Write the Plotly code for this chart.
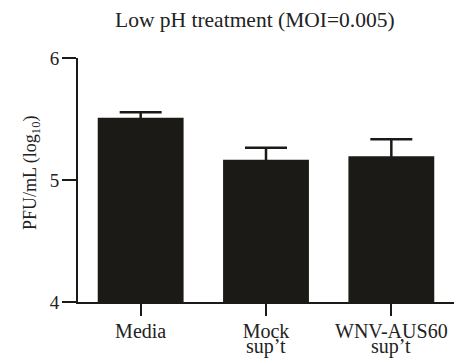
import plotly.graph_objects as go

# Data
categories = ["Media", "Mock", "WNV-AUS60"]
label_line2 = ["", "sup\u2019t", "sup\u2019t"]
means = [5.51, 5.165, 5.195]
errors = [0.045, 0.10, 0.14]
y_ticks = [4, 5, 6]
title_text = "Low pH treatment (MOI=0.005)"
y_title = "PFU/mL (log<sub>10</sub>)"

W, H = 454, 362
ml, mr, mt, mb = 78, 0, 58, 60
pw, ph = W - ml - mr, H - mt - mb

def px_to_paper_x(px):
    return (px - ml) / pw

def px_to_paper_y(py):
    return (H - mb - py) / ph

ink = "#1c1a17"
font = "Liberation Serif"

fig = go.Figure()
fig.add_trace(go.Bar(
    x=list(range(len(categories))),
    y=[m - 4 for m in means],
    base=4,
    width=0.685,
    marker=dict(color=ink, line=dict(width=0)),
    error_y=dict(type="data", symmetric=True, array=errors, color=ink,
                 thickness=2.5, width=21),
))

annotations = [
    dict(text=title_text, xref="paper", yref="paper",
         x=px_to_paper_x(255), y=px_to_paper_y(20), xanchor="center", yanchor="middle",
         showarrow=False, font=dict(family=font, size=21.5, color="#222")),
    dict(text=y_title, xref="paper", yref="paper",
         x=px_to_paper_x(31), y=px_to_paper_y(173), xanchor="center", yanchor="middle",
         textangle=-90, showarrow=False, font=dict(family=font, size=18, color="#222")),
]
for i, l2 in enumerate(label_line2):
    if l2:
        annotations.append(dict(text=l2, xref="x", yref="paper", x=i,
                                y=px_to_paper_y(346), xanchor="center", yanchor="middle",
                                showarrow=False, font=dict(family=font, size=20, color="#222")))

fig.update_layout(
    width=W, height=H,
    margin=dict(l=ml, r=mr, t=mt, b=mb, pad=0),
    paper_bgcolor="white", plot_bgcolor="white",
    showlegend=False,
    annotations=annotations,
    xaxis=dict(range=[-0.5, 2.5], tickmode="array",
               tickvals=list(range(len(categories))), ticktext=categories,
               ticks="outside", ticklen=12, tickwidth=2, tickcolor=ink,
               ticklabelstandoff=-2,
               showline=True, linecolor=ink, linewidth=2, showgrid=False, zeroline=False,
               tickfont=dict(family=font, size=20, color="#222")),
    yaxis=dict(range=[4, 6], tickvals=y_ticks,
               ticks="outside", ticklen=14, tickwidth=2, tickcolor=ink,
               ticklabelstandoff=-1,
               showline=True, linecolor=ink, linewidth=2, showgrid=False, zeroline=False,
               tickfont=dict(family=font, size=19, color="#222")),
)

fig.write_html("out.html")
